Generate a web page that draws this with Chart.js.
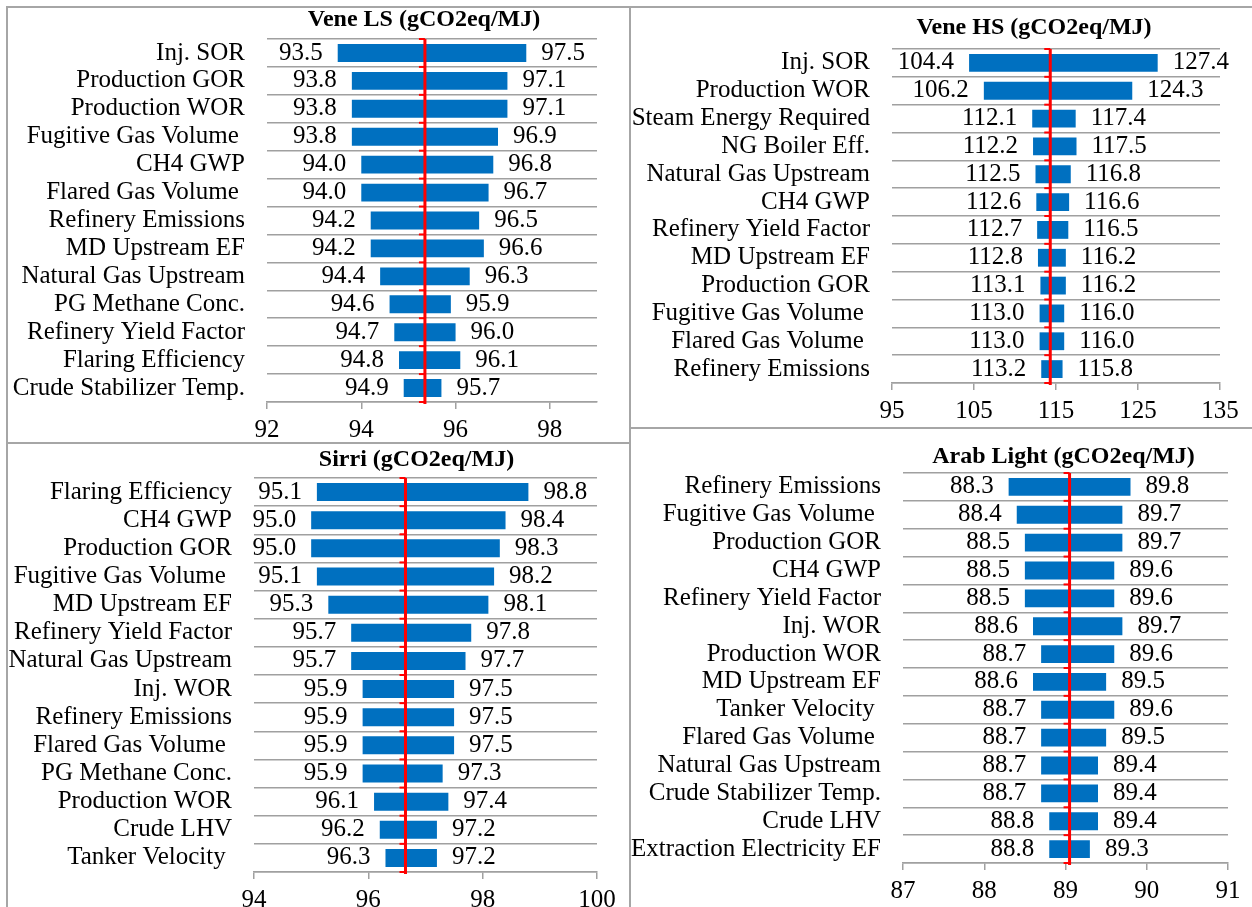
<!DOCTYPE html>
<html>
<head>
<meta charset="utf-8">
<title>Carbon intensity sensitivity - tornado charts</title>
<script src="https://cdn.jsdelivr.net/npm/chart.js@4.4.1/dist/chart.umd.min.js"></script>
<style>
  html, body { margin: 0; padding: 0; background: #fff; }
  #page { position: relative; width: 1252px; height: 907px; overflow: hidden; background: #fff; }
  .panel { position: absolute; }
  .rule { position: absolute; background: #a6a6a6; }
</style>
</head>
<body>
<div id="page">
  <div class="rule" style="left:6px;top:6px;width:1246px;height:2px"></div>
  <div class="rule" style="left:6px;top:6px;width:2px;height:901px"></div>
  <div class="rule" style="left:629px;top:6px;width:2px;height:901px"></div>
  <div class="rule" style="left:6px;top:442px;width:624px;height:2px"></div>
  <div class="rule" style="left:630px;top:427px;width:622px;height:2px"></div>

  <div class="panel" style="left:8px;top:8px;width:621px;height:434px"><canvas id="veneLS"></canvas></div>
  <div class="panel" style="left:631px;top:8px;width:621px;height:420px"><canvas id="veneHS"></canvas></div>
  <div class="panel" style="left:8px;top:444px;width:621px;height:463px"><canvas id="sirri"></canvas></div>
  <div class="panel" style="left:631px;top:429px;width:621px;height:478px"><canvas id="arabLight"></canvas></div>
</div>

<script>
// --- DATA (gCO2eq/MJ, low / high case per parameter) ---
const veneLSLabels = ["Inj. SOR", "Production GOR", "Production WOR", "Fugitive Gas Volume ", "CH4 GWP",
  "Flared Gas Volume ", "Refinery Emissions", "MD Upstream EF", "Natural Gas Upstream", "PG Methane Conc.",
  "Refinery Yield Factor", "Flaring Efficiency", "Crude Stabilizer Temp."];
const veneLSLow  = [93.5, 93.8, 93.8, 93.8, 94.0, 94.0, 94.2, 94.2, 94.4, 94.6, 94.7, 94.8, 94.9];
const veneLSHigh = [97.5, 97.1, 97.1, 96.9, 96.8, 96.7, 96.5, 96.6, 96.3, 95.9, 96.0, 96.1, 95.7];
const veneLSBase = 95.35;
const veneLSTicks = [92, 94, 96, 98];

const veneHSLabels = ["Inj. SOR", "Production WOR", "Steam Energy Required", "NG Boiler Eff.", "Natural Gas Upstream",
  "CH4 GWP", "Refinery Yield Factor", "MD Upstream EF", "Production GOR", "Fugitive Gas Volume ",
  "Flared Gas Volume ", "Refinery Emissions"];
const veneHSLow  = [104.4, 106.2, 112.1, 112.2, 112.5, 112.6, 112.7, 112.8, 113.1, 113.0, 113.0, 113.2];
const veneHSHigh = [127.4, 124.3, 117.4, 117.5, 116.8, 116.6, 116.5, 116.2, 116.2, 116.0, 116.0, 115.8];
const veneHSBase = 114.3;
const veneHSTicks = [95, 105, 115, 125, 135];

const sirriLabels = ["Flaring Efficiency", "CH4 GWP", "Production GOR", "Fugitive Gas Volume ", "MD Upstream EF",
  "Refinery Yield Factor", "Natural Gas Upstream", "Inj. WOR", "Refinery Emissions", "Flared Gas Volume ",
  "PG Methane Conc.", "Production WOR", "Crude LHV", "Tanker Velocity "];
const sirriLow  = [95.1, 95.0, 95.0, 95.1, 95.3, 95.7, 95.7, 95.9, 95.9, 95.9, 95.9, 96.1, 96.2, 96.3];
const sirriHigh = [98.8, 98.4, 98.3, 98.2, 98.1, 97.8, 97.7, 97.5, 97.5, 97.5, 97.3, 97.4, 97.2, 97.2];
const sirriBase = 96.65;
const sirriTicks = [94, 96, 98, 100];

const arabLabels = ["Refinery Emissions", "Fugitive Gas Volume ", "Production GOR", "CH4 GWP", "Refinery Yield Factor",
  "Inj. WOR", "Production WOR", "MD Upstream EF", "Tanker Velocity ", "Flared Gas Volume ",
  "Natural Gas Upstream", "Crude Stabilizer Temp.", "Crude LHV", "Extraction Electricity EF"];
const arabLow  = [88.3, 88.4, 88.5, 88.5, 88.5, 88.6, 88.7, 88.6, 88.7, 88.7, 88.7, 88.7, 88.8, 88.8];
const arabHigh = [89.8, 89.7, 89.7, 89.6, 89.6, 89.7, 89.6, 89.5, 89.6, 89.5, 89.4, 89.4, 89.4, 89.3];
const arabBase = 89.05;
const arabTicks = [87, 88, 89, 90, 91];

// --- STYLE ---
const SERIF = '"Liberation Serif", "Times New Roman", serif';
const BLUE = '#0070c0';
const RED = '#ff0000';
const GRID = '#a0a0a0';

Chart.defaults.font.family = SERIF;
Chart.defaults.font.size = 25;
Chart.defaults.color = '#000';

// value labels, red base line with its little marks, and the panel title
const tornadoExtras = {
    id: 'tornadoExtras',
    afterDatasetsDraw(chart, args, o) {
        const { ctx, chartArea: a, scales: { x } } = chart;
        ctx.save();
        ctx.font = '25px ' + SERIF;
        ctx.fillStyle = '#000';
        ctx.textBaseline = 'middle';
        chart.getDatasetMeta(0).data.forEach((bar, i) => {
            ctx.textAlign = 'right';
            ctx.fillText(o.low[i].toFixed(1), x.getPixelForValue(o.low[i]) - 15, bar.y);
            ctx.textAlign = 'left';
            ctx.fillText(o.high[i].toFixed(1), x.getPixelForValue(o.high[i]) + 15, bar.y);
        });

        const bx = x.getPixelForValue(o.base);
        ctx.strokeStyle = RED;
        ctx.lineWidth = 3;
        ctx.beginPath();
        ctx.moveTo(bx, a.top);
        ctx.lineTo(bx, a.bottom + 2);
        ctx.stroke();
        ctx.lineWidth = 2;
        const n = o.low.length, step = (a.bottom - a.top) / n;
        for (let k = 0; k <= n; k++) {
            const yy = a.top + k * step;
            ctx.beginPath();
            ctx.moveTo(bx - 6, yy);
            ctx.lineTo(bx, yy);
            ctx.stroke();
        }

        ctx.font = 'bold 24px ' + SERIF;
        ctx.textAlign = 'center';
        ctx.fillText(o.title, (a.left + a.right) / 2 + o.titleDx, a.top + o.titleDy);
        ctx.restore();
    }
};

function makeTornado(id, labels, low, high, base, ticks, title, box) {
    new Chart(document.getElementById(id), {
        type: 'bar',
        data: {
            labels: labels,
            datasets: [{
                data: low.map((v, i) => [v, high[i]]),
                backgroundColor: BLUE,
                borderWidth: 0,
                categoryPercentage: 1,
                barPercentage: 0.64
            }]
        },
        options: {
            indexAxis: 'y',
            responsive: true,
            maintainAspectRatio: false,
            animation: false,
            layout: { padding: { left: 0, right: box.padRight, top: box.padTop, bottom: 0 } },
            plugins: {
                legend: { display: false },
                title: { display: false },
                tooltip: { enabled: false },
                tornadoExtras: { low, high, base, title, titleDx: box.titleDx, titleDy: box.titleDy }
            },
            scales: {
                x: {
                    type: 'linear',
                    min: ticks[0],
                    max: box.max,
                    afterBuildTicks: s => { s.ticks = ticks.map(v => ({ value: v })); },
                    afterFit: s => { s.height = box.xHeight; },
                    ticks: { padding: 6, maxRotation: 0 },
                    grid: { drawOnChartArea: false, drawTicks: true, tickLength: 7, color: GRID, lineWidth: 1.5 },
                    border: { display: true, color: GRID, width: 1.5 }
                },
                y: {
                    // fixed width, and no extra room kept for the label halves
                    afterFit: s => { s.width = box.yWidth; s.paddingTop = 0; s.paddingBottom = 0; },
                    ticks: { padding: 22, autoSkip: false },
                    grid: { color: GRID, lineWidth: 1.5, drawTicks: false, offset: true },
                    border: { display: false }
                }
            }
        },
        plugins: [tornadoExtras]
    });
}

makeTornado('veneLS', veneLSLabels, veneLSLow, veneLSHigh, veneLSBase, veneLSTicks, 'Vene LS (gCO2eq/MJ)',
    { max: 99, yWidth: 259, padRight: 32, padTop: 31, xHeight: 40, titleDx: -8, titleDy: -19 });
makeTornado('veneHS', veneHSLabels, veneHSLow, veneHSHigh, veneHSBase, veneHSTicks, 'Vene HS (gCO2eq/MJ)',
    { max: 135, yWidth: 261, padRight: 32, padTop: 41, xHeight: 45, titleDx: -22, titleDy: -21 });
makeTornado('sirri', sirriLabels, sirriLow, sirriHigh, sirriBase, sirriTicks, 'Sirri (gCO2eq/MJ)',
    { max: 100, yWidth: 246, padRight: 32, padTop: 34, xHeight: 35, titleDx: -9, titleDy: -18 });
makeTornado('arabLight', arabLabels, arabLow, arabHigh, arabBase, arabTicks, 'Arab Light (gCO2eq/MJ)',
    { max: 91, yWidth: 272, padRight: 24, padTop: 44, xHeight: 44, titleDx: -2, titleDy: -16 });
</script>
</body>
</html>
